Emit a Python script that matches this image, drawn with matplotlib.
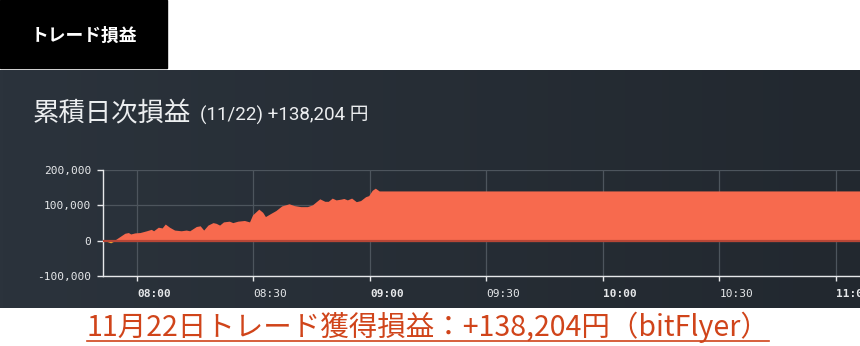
import numpy as np
import matplotlib
matplotlib.use("Agg")
import matplotlib.pyplot as plt
from matplotlib.lines import Line2D
from matplotlib.patches import Rectangle

# =========================
# データ（08:00 からの経過分, 累積損益 円）
# =========================
minutes = [-8.4, -6.8, -5.6, -3.0, -2.1, -1.5, -0.4, 0.9, 2.6, 3.8, 4.4, 5.6,
           6.6, 7.4, 8.5, 9.8, 11.5, 12.8, 13.7, 15.4, 16.4, 17.3, 18.4, 19.7,
           20.5, 21.4, 22.4, 23.9, 24.8, 26.1, 27.8, 29.1, 29.9, 31.5, 32.5,
           33.2, 34.6, 35.9, 37.4, 39.3, 40.6, 42.3, 44.0, 45.3, 47.2, 48.5,
           49.4, 50.4, 51.4, 52.6, 53.4, 54.3, 55.4, 56.6, 57.7, 59.0, 59.8,
           60.7, 61.5, 62.5, 190.0]
pnl = [0, -6600, 0, 19000, 21000, 17000, 20000, 21000, 26000, 30000, 26000,
       36000, 34000, 45000, 36000, 28000, 26000, 28000, 26000, 38000, 40000,
       28000, 42000, 49000, 47000, 42000, 51000, 53000, 49000, 53000, 55000,
       51000, 71000, 87000, 78000, 66000, 75000, 83000, 96000, 102000, 97000,
       94000, 94000, 99000, 116000, 109000, 109000, 118000, 113000, 115000,
       117000, 113000, 118000, 108000, 111000, 122000, 125000, 140000, 146000,
       138204, 138204]

tick_minutes = [0, 30, 60, 90, 120, 150, 180]
tick_labels = ["08:00", "08:30", "09:00", "09:30", "10:00", "10:30", "11:00"]
y_ticks = [-100000, 0, 100000, 200000]

x = np.array(minutes)
y = np.array(pnl)

# =========================
# 図
# =========================
fig = plt.figure(figsize=(8.6, 3.46), dpi=100)
W, H = 860, 346

# 上のラベルボックス
fig.add_artist(Rectangle((0, 1 - 68 / H), 167 / W, 68 / H,
                         transform=fig.transFigure, color="black", zorder=0))
fig.text(84 / W, 1 - 36 / H, "トレード損益", color="white", fontsize=12.8,
         fontweight="bold", family=["Noto Sans CJK JP", "DejaVu Sans"],
         ha="center", va="center")

# ダークパネル（横方向のグラデーション）
bg = fig.add_axes([0, 1 - 308 / H, 1, (308 - 70) / H], zorder=-1)
grad = np.linspace(0, 1, 256).reshape(1, -1)
c0 = np.array([0x2b, 0x33, 0x3c]) / 255
c1 = np.array([0x22, 0x28, 0x2f]) / 255
img = (c0[None, None, :] * (1 - grad[..., None]) + c1[None, None, :] * grad[..., None])
bg.imshow(img, aspect="auto", extent=[0, 1, 0, 1])
bg.axis("off")

fig.text(33 / W, 1 - 113 / H, "累積日次損益", color="#eceef0", fontsize=19,
         family=["Noto Sans CJK JP", "DejaVu Sans"], ha="left", va="center")
fig.text(200 / W, 1 - 115 / H, "(11/22) +138,204 円", color="#eceef0",
         fontsize=13.5, family=["Roboto", "Noto Sans CJK JP"],
         ha="left", va="center")

# =========================
# メインのエリアチャート
# =========================
ax = fig.add_axes([103 / W, 1 - 276 / H, (860 - 103) / W, (276 - 169.5) / H])
ax.patch.set_alpha(0)

ax.fill_between(x, 0, y, where=y >= 0, interpolate=True,
                color="#f76a4e", lw=0, zorder=3)
ax.fill_between(x, 0, y, where=y <= 0, interpolate=True,
                color="#f2a72e", lw=0, zorder=3)
ax.axhline(0, color="#b84636", lw=1.6, zorder=4)

ax.set_xlim(-8.76, 186.2)
ax.set_ylim(-100000, 200000)

ax.set_xticks(tick_minutes)
ax.set_xticklabels(tick_labels)
ax.set_yticks(y_ticks)
ax.set_yticklabels([f"{v:,}" for v in y_ticks])

ax.grid(True, color="#4d555d", lw=0.9, zorder=1)
ax.set_axisbelow(True)

for s in ["top", "right"]:
    ax.spines[s].set_visible(False)
for s in ["left", "bottom"]:
    ax.spines[s].set_color("#e6e8ea")
    ax.spines[s].set_linewidth(1.0)

ax.tick_params(axis="y", colors="#e6e8ea", length=4.5, width=1, pad=4,
               labelsize=8)
ax.tick_params(axis="x", colors="#e6e8ea", length=3.5, width=1, pad=6,
               labelsize=8)
for lab in ax.get_yticklabels():
    lab.set_family("DejaVu Sans Mono")
for lab, txt in zip(ax.get_xticklabels(), tick_labels):
    lab.set_family("DejaVu Sans Mono")
    lab.set_horizontalalignment("left")
    if txt.endswith(":00"):
        lab.set_fontweight("bold")

# =========================
# 下のキャプション（下線付き）
# =========================
cap = fig.text(428 / W, 1 - 327 / H, "11月22日トレード獲得損益：+138,204円（bitFlyer）",
               color="#d0441a", fontsize=20.5,
               family=["Noto Sans CJK JP", "DejaVu Sans"],
               ha="center", va="center")

fig.canvas.draw()
bb = cap.get_window_extent(fig.canvas.get_renderer())
uy = (bb.y0 + 2) / H
fig.add_artist(Line2D([bb.x0 / W, bb.x1 / W], [uy, uy],
                      transform=fig.transFigure, color="#d0441a", lw=1.2))

fig.savefig("out.png", dpi=100, facecolor="white")
